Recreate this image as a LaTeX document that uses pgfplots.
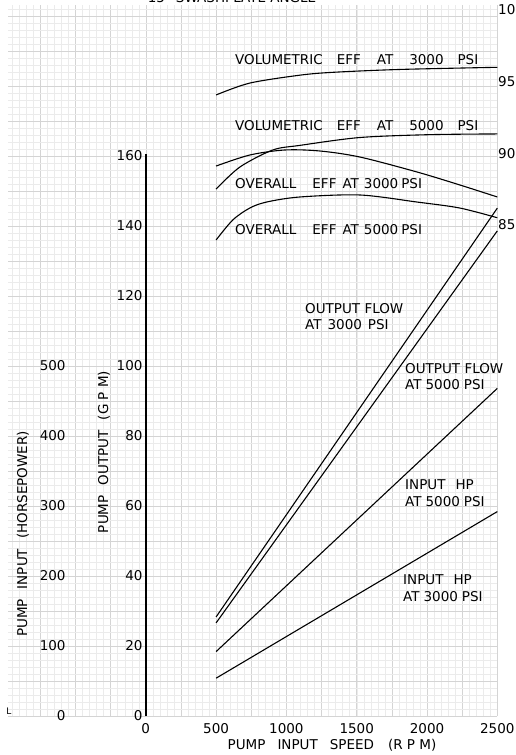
\documentclass[border=0pt]{standalone}
\usepackage{pgfplots}
\pgfplotsset{compat=1.18}
\usepackage{fontspec}
\setmainfont{DejaVu Sans}

\newcommand{\g}[1]{\hspace{#1bp}}

\begin{document}
\begin{tikzpicture}[x=1bp,y=1bp,font=\fontsize{13.5bp}{16bp}\selectfont]
\useasboundingbox (-8,-39) rectangle (508,716);

\pgfplotsset{chart/.style={scale only axis, width=489.3bp, height=711bp,
  xmin=-980, xmax=2500, at={(0,0)}, anchor=south west, clip=false},
  curve/.style={black, line width=1.1bp, mark=none}}

% pump output (GPM), carries the grid paper
\begin{axis}[chart, ymin=0, ymax=203.14,
  axis line style={draw=none}, major tick length=0pt, minor tick length=0pt,
  xtick={-750,-500,...,2500},
  xticklabels={,,,0,,500,,1000,,1500,,2000,,2500},
  minor xtick={-950,-900,...,2500},
  ytick={0,10,...,200}, yticklabels={}, minor ytick={0,2,...,202},
  grid=both,
  major grid style={black!17, line width=0.45pt},
  minor grid style={black!8, line width=0.35pt},
  xticklabel style={yshift=-4bp}]
\addplot[curve] coordinates {(500,28.3) (2500,145.1)};
\addplot[curve] coordinates {(500,26.6) (2500,138.6)};
\draw[line width=1.6bp] (axis cs:0,0) -- (axis cs:0,160.5);
\pgfplotsinvokeforeach{0,20,...,160}{\node[anchor=east, inner sep=1bp] at (axis cs:-15,#1) {#1};}
\end{axis}

% pump input (HP)
\begin{axis}[chart, ymin=0, ymax=1015.7, hide axis]
\addplot[curve] coordinates {(500,92) (2500,468)};
\addplot[curve] coordinates {(500,54) (2500,292)};
\pgfplotsinvokeforeach{0,100,...,500}{\node[anchor=east, inner sep=1bp] at (axis cs:-562,#1) {#1};}
\end{axis}

% efficiency (%)
\begin{axis}[chart, ymin=50.73, ymax=100.35, hide axis]
\addplot[curve, smooth] coordinates {(500,94.07) (740,94.9) (1095,95.45) (1330,95.65) (1806,95.85) (2500,96.0)};
\addplot[curve, smooth] coordinates {(500,87.5) (669,89.04) (903,90.23) (1095,90.55) (1522,91.1) (2020,91.3) (2500,91.35)};
\addplot[curve, smooth] coordinates {(500,89.11) (740,89.88) (989,90.23) (1238,90.16) (1522,89.74) (1927,88.7) (2233,87.79) (2500,86.95)};
\addplot[curve, smooth] coordinates {(500,83.95) (619,85.35) (740,86.18) (860,86.6) (1095,86.95) (1522,87.09) (1927,86.6) (2233,86.18) (2500,85.5)};
\pgfplotsinvokeforeach{85,90,95,100}{\node[anchor=west, inner sep=0pt] at (axis cs:2505,#1) {#1};}
\end{axis}

% lettering
\node[anchor=south] at (224,710) {15° SWASHPLATE ANGLE};
\node[anchor=west, inner sep=0] at (227,656) {VOLUMETRIC\g{14}EFF\g{16}AT\g{16}3000\g{14}PSI};
\node[anchor=west, inner sep=0] at (227,590) {VOLUMETRIC\g{14}EFF\g{16}AT\g{16}5000\g{14}PSI};
\node[anchor=west, inner sep=0] at (227,532) {OVERALL\g{16}EFF\g{6}AT\g{5}3000\g{3}PSI};
\node[anchor=west, inner sep=0] at (227,486) {OVERALL\g{16}EFF\g{6}AT\g{5}5000\g{3}PSI};
\node[anchor=west, inner sep=0] at (297,407) {OUTPUT FLOW};
\node[anchor=west, inner sep=0] at (297,391) {AT\g{6}3000\g{6}PSI};
\node[anchor=west, inner sep=0] at (397,347) {OUTPUT FLOW};
\node[anchor=west, inner sep=0] at (397,331) {AT\g{4}5000\g{4}PSI};
\node[anchor=west, inner sep=0] at (397,231) {INPUT\g{10}HP};
\node[anchor=west, inner sep=0] at (397,214) {AT\g{4}5000\g{4}PSI};
\node[anchor=west, inner sep=0] at (395,136) {INPUT\g{10}HP};
\node[anchor=west, inner sep=0] at (395,119) {AT\g{4}3000\g{4}PSI};
\node[rotate=90] at (15,182) {PUMP\g{10}INPUT\g{10}(HORSEPOWER)};
\node[rotate=90] at (96,264) {PUMP\g{10}OUTPUT\g{10}(G P M)};
\node at (324,-29) {PUMP\g{12}INPUT\g{12}SPEED\g{14}(R P M)};
\node[font=\fontsize{9bp}{10bp}\selectfont] at (1,5) {L};
\end{tikzpicture}
\end{document}
